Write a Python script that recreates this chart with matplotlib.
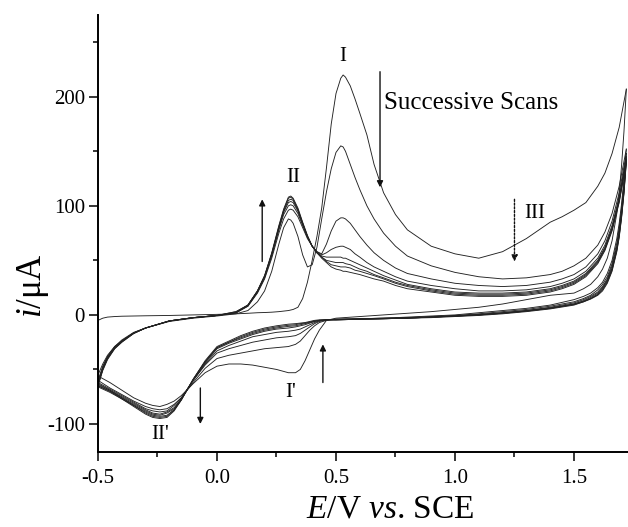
import matplotlib
matplotlib.use("Agg")
import matplotlib.pyplot as plt
from matplotlib.ticker import MultipleLocator

# ---------------- data ----------------
# potential grid of the anodic (forward) sweeps, V vs SCE
E_fwd = [-0.50, -0.48, -0.46, -0.43, -0.40, -0.35, -0.30, -0.20, -0.10, 0.00,
         0.08, 0.13, 0.17, 0.20, 0.23, 0.26, 0.28, 0.30, 0.31, 0.32,
         0.34, 0.36, 0.38, 0.40, 0.42, 0.44, 0.46, 0.48, 0.50, 0.52,
         0.53, 0.54, 0.56, 0.58, 0.60, 0.63, 0.66, 0.70, 0.75, 0.80,
         0.90, 1.00, 1.10, 1.20, 1.30, 1.40, 1.45, 1.50, 1.55, 1.60,
         1.63, 1.66, 1.69, 1.72]

# potential grid of the cathodic (reverse) sweeps
E_rev = [1.72, 1.71, 1.70, 1.69, 1.68, 1.66, 1.64, 1.62, 1.60, 1.57,
         1.54, 1.50, 1.40, 1.30, 1.20, 1.10, 1.00, 0.90, 0.80, 0.70,
         0.60, 0.50, 0.46, 0.43, 0.41, 0.39, 0.37, 0.35, 0.33, 0.30,
         0.25, 0.20, 0.15, 0.10, 0.05, 0.00, -0.05, -0.10, -0.15, -0.18,
         -0.21, -0.24, -0.27, -0.30, -0.35, -0.40, -0.45, -0.50]

# currents (uA), anodic sweeps, scans 1..8
i_fwd_1 = [-5, -3, -2, -1.5, -1.2, -1, -0.8, -0.5, 0, 0.5,
           1, 1.5, 2, 2.2, 2.5, 3, 3.5, 4, 4.5, 5,
           7, 15, 30, 50, 72, 98, 135, 175, 203, 217,
           220, 218, 210, 198, 185, 165, 138, 112, 92, 78,
           63, 56, 52, 58, 70, 85, 90, 96, 103, 118,
           130, 148, 172, 207]
i_fwd_2 = [-55, -45, -37, -29, -24, -17, -12, -6, -3, -1,
           1, 4, 12, 22, 40, 65, 80, 88, 87, 84,
           72, 55, 44, 46, 62, 88, 113, 134, 149, 155,
           154, 150, 138, 126, 115, 100, 88, 75, 63, 54,
           45, 39, 35, 33, 34, 37, 40, 45, 52, 64,
           76, 93, 118, 152]
i_fwd_3 = [-60, -47, -38, -29, -23, -16, -12, -5.5, -2.5, -0.5,
           2, 8, 20, 33, 52, 75, 88, 96, 97, 96,
           90, 80, 70, 63, 58, 56, 65, 77, 86, 89,
           89, 88, 84, 78, 72, 64, 57, 50, 43, 38,
           33, 29, 27, 26, 27, 30, 33, 37, 44, 56,
           68, 86, 112, 148]
i_fwd_4 = [-62, -48, -39, -30, -24, -16.5, -12, -5.5, -2.5, -0.5,
           2, 8, 21, 34, 54, 78, 92, 100, 101, 100,
           93, 82, 71, 63, 58, 55, 57, 60, 62, 63,
           63, 62, 60, 56, 53, 48, 44, 40, 35, 31,
           27, 24, 22, 22, 23, 26, 29, 33, 40, 52,
           64, 82, 108, 145]
i_fwd_5 = [-63, -49, -39, -30, -24, -16.5, -12, -5.5, -2.5, -0.5,
           2, 9, 21, 35, 55, 79, 94, 103, 104, 103,
           95, 83, 72, 63, 57, 54, 53, 53, 53, 53,
           52, 52, 50, 48, 46, 43, 40, 36, 32, 28,
           24, 21, 20, 20, 21, 24, 27, 31, 38, 50,
           62, 80, 106, 143]
i_fwd_6 = [-64, -50, -40, -30, -24, -16.5, -12, -5.5, -2.5, -0.5,
           2, 9, 22, 35, 56, 80, 95, 105, 106, 105,
           96, 84, 72, 63, 57, 53, 50, 49, 48, 48,
           48, 47, 46, 44, 42, 40, 37, 34, 30, 27,
           23, 20, 19, 19, 20, 23, 26, 30, 37, 49,
           61, 79, 105, 142]
i_fwd_7 = [-65, -50, -40, -31, -25, -17, -12, -5.5, -2.5, -0.5,
           3, 9, 22, 36, 56, 81, 96, 107, 108, 106,
           97, 84, 72, 63, 57, 53, 49, 46, 45, 44,
           44, 44, 43, 41, 40, 38, 36, 33, 29, 26,
           22, 19, 18, 18, 19, 22, 25, 29, 36, 48,
           60, 78, 104, 141]
i_fwd_8 = [-65, -51, -41, -31, -25, -17, -12, -5.5, -2.5, -0.5,
           3, 9, 22, 36, 57, 82, 97, 108, 109, 107,
           98, 85, 73, 63, 57, 52, 48, 44, 42, 41,
           40, 40, 39, 38, 37, 35, 33, 31, 27, 24,
           21, 18, 17, 17, 18, 21, 24, 28, 35, 47,
           59, 77, 103, 140]

# currents (uA), cathodic sweeps, scans 1..8
i_rev_1 = [207, 168, 137, 112, 93, 68, 52, 42, 35, 28,
           24, 20, 18, 14, 10, 7, 5, 3, 1.5, 0,
           -1.5, -3, -5, -14, -22, -32, -42, -50, -53, -53,
           -50, -48, -46, -45, -45, -47, -53, -63, -74, -79,
           -82, -84, -83, -81, -76, -69, -62, -56]
i_rev_2 = [152, 125, 102, 84, 70, 50, 38, 30, 25, 20,
           17, 14, 9, 6, 4, 2, 0, -1, -2, -3,
           -3.5, -4, -5, -7, -10, -14, -19, -24, -27, -29,
           -30, -31, -33, -35, -37, -40, -49, -62, -76, -82,
           -86, -87, -86, -84, -79, -73, -67, -60]
i_rev_3 = [148, 120, 98, 80, 66, 47, 35, 28, 23, 18,
           15, 12, 8, 5, 3, 1, -0.5, -1.5, -2.5, -3,
           -3.5, -4, -4.5, -6, -8, -11, -14, -17, -19, -20,
           -21, -23, -25, -28, -31, -35, -46, -60, -76, -83,
           -88, -89, -88, -86, -80, -74, -68, -62]
i_rev_4 = [145, 117, 95, 77, 63, 45, 33, 26, 21, 17,
           14, 11, 7, 4, 2, 0.5, -1, -2, -2.5, -3,
           -3.5, -4, -4.5, -5.5, -7, -9, -11, -13, -14, -15,
           -16, -18, -20, -24, -28, -33, -45, -60, -77, -85,
           -89, -91, -90, -87, -81, -75, -69, -63]
i_rev_5 = [143, 115, 93, 75, 61, 43, 32, 25, 20, 16,
           13, 10, 6.5, 4, 2, 0, -1, -2, -3, -3.5,
           -4, -4.5, -4.5, -5, -6, -7.5, -9, -10, -11, -12,
           -13, -15, -18, -22, -26, -31, -44, -60, -77, -86,
           -90, -92, -91, -88, -82, -76, -69, -64]
i_rev_6 = [142, 113, 91, 73, 60, 42, 31, 24, 19, 15,
           12.5, 10, 6, 3.5, 1.5, 0, -1, -2, -3, -3.5,
           -4, -4.5, -4.5, -5, -6, -7, -8, -9, -10, -10.5,
           -12, -14, -17, -21, -25, -30, -43, -59, -78, -87,
           -92, -93, -92, -89, -83, -76, -70, -65]
i_rev_7 = [141, 112, 90, 72, 59, 41, 30, 23, 18.5, 15,
           12, 9.5, 6, 3.5, 1.5, 0, -1.2, -2, -3, -3.5,
           -4, -4.5, -4.5, -5, -5.5, -6.5, -7.5, -8, -9, -9.5,
           -11, -13, -16, -20, -25, -30, -43, -59, -78, -87,
           -93, -94, -93, -90, -83, -77, -70, -65]
i_rev_8 = [140, 111, 89, 71, 58, 40, 29, 22, 18, 14.5,
           12, 9, 5.5, 3, 1, -0.5, -1.5, -2.5, -3, -3.5,
           -4, -4.5, -4.5, -4.5, -5, -6, -7, -7.5, -8, -8.5,
           -10, -12, -15, -19, -24, -29, -42, -59, -78, -88,
           -94, -95, -94, -91, -84, -77, -71, -66]

forward_scans = [i_fwd_1, i_fwd_2, i_fwd_3, i_fwd_4, i_fwd_5, i_fwd_6, i_fwd_7, i_fwd_8]
reverse_scans = [i_rev_1, i_rev_2, i_rev_3, i_rev_4, i_rev_5, i_rev_6, i_rev_7, i_rev_8]

x_ticks = [-0.5, 0.0, 0.5, 1.0, 1.5]
x_tick_labels = ["-0.5", "0.0", "0.5", "1.0", "1.5"]
y_ticks = [-100, 0, 100, 200]
y_tick_labels = ["-100", "0", "100", "200"]

# ---------------- figure ----------------
plt.rcParams['font.family'] = ['Liberation Serif', 'DejaVu Serif']
plt.rcParams['mathtext.fontset'] = 'custom'
plt.rcParams['mathtext.rm'] = 'Liberation Serif'
plt.rcParams['mathtext.it'] = 'Liberation Serif:italic'
plt.rcParams['axes.unicode_minus'] = False

fig = plt.figure(figsize=(6.28, 5.27), dpi=100)
ax = fig.add_axes([98 / 628, 1 - 452 / 527, 1 - 98 / 628, (452 - 15) / 527])

line_kw = dict(color='#222222', lw=0.65, solid_joinstyle='round')
for f, r in zip(forward_scans, reverse_scans):
    ax.plot(E_fwd, f, **line_kw)
    ax.plot(E_rev, r, **line_kw)

ax.set_xlim(-0.5, 1.727)
ax.set_ylim(-125.7, 275)

for s in ['top', 'right']:
    ax.spines[s].set_visible(False)
for s in ['left', 'bottom']:
    ax.spines[s].set_linewidth(1.4)

ax.set_xticks(x_ticks)
ax.set_xticklabels(x_tick_labels)
ax.set_yticks(y_ticks)
ax.set_yticklabels(y_tick_labels)
ax.xaxis.set_minor_locator(MultipleLocator(0.25))
ax.yaxis.set_minor_locator(MultipleLocator(50))
ax.tick_params(which='major', direction='out', length=6.5, width=1.1, labelsize=15)
ax.tick_params(which='minor', direction='out', length=3.6, width=1.1)
ax.tick_params(axis='x', which='major', pad=6)
ax.tick_params(axis='y', which='major', pad=3)

# axis labels
fig.text(390 / 628, 0.004, r'$E$/V $vs$. SCE', ha='center', va='bottom', fontsize=24)
fig.text(33 / 628, 1 - 286 / 527, r'$i$/μA', ha='center', va='center', rotation=90, fontsize=25)

# annotations
ann_fs = 15
ax.text(0.53, 237, 'I', ha='center', va='center', fontsize=ann_fs)
ax.text(0.32, 126, 'II', ha='center', va='center', fontsize=ann_fs)
ax.text(1.336, 93, 'III', ha='center', va='center', fontsize=ann_fs)
ax.text(0.31, -71, "I'", ha='center', va='center', fontsize=ann_fs)
ax.text(-0.24, -110, "II'", ha='center', va='center', fontsize=ann_fs)
ax.text(0.70, 194, 'Successive Scans', ha='left', va='center', fontsize=18)

arrow_kw = dict(arrowstyle='-|>', color='#111111', lw=1.0, mutation_scale=9, shrinkA=0, shrinkB=0)
ax.annotate('', xy=(0.685, 117), xytext=(0.685, 223), arrowprops=arrow_kw)
ax.annotate('', xy=(0.19, 106), xytext=(0.19, 49), arrowprops=arrow_kw)
ax.annotate('', xy=(0.445, -27), xytext=(0.445, -62), arrowprops=arrow_kw)
ax.annotate('', xy=(-0.07, -100), xytext=(-0.07, -67), arrowprops=arrow_kw)
dotted_kw = dict(arrow_kw)
dotted_kw['linestyle'] = (0, (1.5, 1.2))
ax.annotate('', xy=(1.25, 49), xytext=(1.25, 106), arrowprops=dotted_kw)

fig.savefig('out.png', dpi=100)
